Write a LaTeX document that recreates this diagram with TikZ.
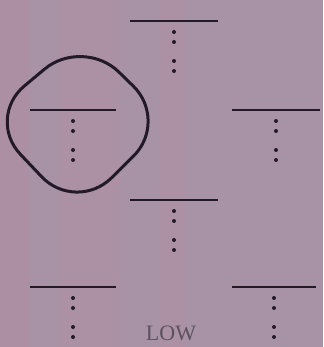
\documentclass[tikz,border=0pt]{standalone}
\usepackage{fontspec}
\setmainfont{Liberation Serif}
\begin{document}
\begin{tikzpicture}[x=1pt,y=-1pt,
  bar/.style={draw=ink,line width=1.6pt},
  dotmark/.style={fill=ink,circle,inner sep=0pt,minimum size=4pt},
  loop/.style={draw=ink,line width=3pt,rounded corners=50pt}]
\definecolor{bg}{RGB}{168,147,166}
\definecolor{bgpink}{RGB}{178,140,163}
\definecolor{ink}{RGB}{35,26,40}
\fill[bg] (0,0) rectangle (323,347);
\fill[bgpink,opacity=0.5] (0,0) rectangle (28,347);
\fill[bgpink,opacity=0.4] (60,0) rectangle (120,347);
\fill[bgpink,opacity=0.4] (160,0) rectangle (185,347);
\useasboundingbox (0,0) rectangle (323,347);
% T-marks
\foreach \n/\cx/\cy/\w in {t1/174/21/44, t2/73/110/43, t3/276/110/44, t4/174/200/44, t5/73/287/43, t6/274/287/42}{
  \coordinate (\n) at (\cx,\cy);
  \draw[bar] ([xshift=-\w pt]\n) -- ([xshift=\w pt]\n);
  \foreach \dy in {11,21,40,50}{
    \node[dotmark] at ([yshift=-\dy pt]\n) {};
  }
}
% rounded diamond around left mark
\coordinate (dl) at (-14,118);
\coordinate (dt) at (83,37);
\coordinate (dr) at (169,121);
\coordinate (db) at (76,213);
\draw[loop] (dt) -- (dr) -- (db) -- (dl) -- cycle;
\node[text=ink!75,font=\fontsize{22}{22}\selectfont] (low) at (171,333) {LOW};
\end{tikzpicture}
\end{document}
